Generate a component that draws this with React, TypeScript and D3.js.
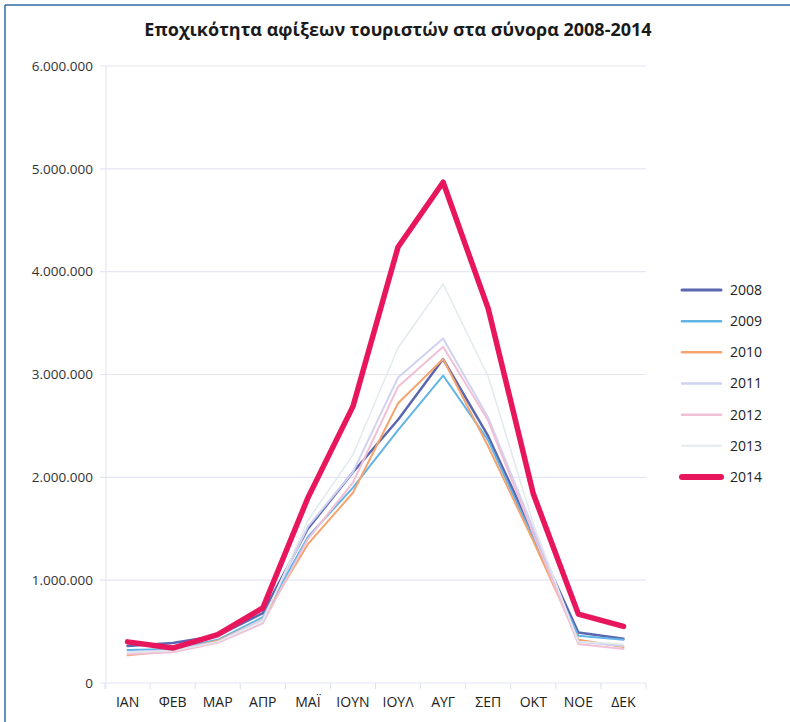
import React from "react";
import * as d3 from "d3";

const months = ["ΙΑΝ", "ΦΕΒ", "ΜΑΡ", "ΑΠΡ", "ΜΑΪ", "ΙΟΥΝ", "ΙΟΥΛ", "ΑΥΓ", "ΣΕΠ", "ΟΚΤ", "ΝΟΕ", "ΔΕΚ"];
const years = ["2008", "2009", "2010", "2011", "2012", "2013", "2014"];
const yTicks = [0, 1000000, 2000000, 3000000, 4000000, 5000000, 6000000];

const v2008 = [360000, 390000, 460000, 680000, 1500000, 2050000, 2560000, 3150000, 2400000, 1450000, 490000, 430000];
const v2009 = [320000, 330000, 420000, 640000, 1420000, 1900000, 2460000, 2990000, 2360000, 1400000, 460000, 420000];
const v2010 = [270000, 310000, 410000, 620000, 1350000, 1850000, 2720000, 3150000, 2300000, 1380000, 420000, 350000];
const v2011 = [300000, 320000, 400000, 620000, 1520000, 2050000, 2970000, 3350000, 2580000, 1500000, 400000, 360000];
const v2012 = [280000, 300000, 390000, 580000, 1400000, 1950000, 2880000, 3270000, 2550000, 1450000, 380000, 330000];
const v2013 = [300000, 310000, 400000, 600000, 1580000, 2220000, 3260000, 3880000, 2980000, 1550000, 400000, 380000];
const v2014 = [400000, 340000, 470000, 730000, 1800000, 2690000, 4240000, 4870000, 3640000, 1840000, 670000, 550000];

const seriesValues = [v2008, v2009, v2010, v2011, v2012, v2013, v2014];
const colors = ["#5a66b0", "#62b4e6", "#f5a46e", "#cfd3f0", "#f0c0d6", "#e2eaee", "#e8175d"];
const widths = [2.5, 2, 2, 2, 2, 1.5, 5.5];

const locale = d3.formatLocale({ decimal: ",", thousands: ".", grouping: [3], currency: ["", "€"] });
const fmt = locale.format(",d");

export default function App() {
  const W = 790;
  const H = 722;
  const x = d3.scaleBand<string>().domain(months).range([105, 646]).padding(0);
  const y = d3.scaleLinear().domain([0, 6000000]).range([683, 66]);
  const cx = (m: string) => (x(m) as number) + x.bandwidth() / 2;
  const line = d3
    .line<number>()
    .x((_, i) => cx(months[i]))
    .y((d) => y(d));

  const legendY = d3.scalePoint<string>().domain(years).range([290, 477]);
  const boundaries = months.map((m) => x(m) as number).concat([646]);

  return (
    <svg width={W} height={H} style={{ position: "absolute", left: 0, top: 0, background: "#fff" }}>
      <rect x={0} y={0} width={W} height={H} fill="#fff" />
      <line x1={5} y1={5} x2={W} y2={5} stroke="#2f6aa0" strokeWidth={1.5} />
      <line x1={5} y1={5} x2={5} y2={H} stroke="#2f6aa0" strokeWidth={1.5} />
      <text
        x={398}
        y={36}
        textAnchor="middle"
        fontFamily="'Open Sans', sans-serif"
        fontWeight={700}
        fontSize={18}
        fill="#1a1a1a"
      >
        Εποχικότητα αφίξεων τουριστών στα σύνορα 2008-2014
      </text>
      {yTicks.map((t) => (
        <g key={t}>
          <line x1={100} x2={646} y1={y(t)} y2={y(t)} stroke="#e4e6f4" strokeWidth={1.2} />
          <text
            x={93}
            y={y(t)}
            dy="0.35em"
            textAnchor="end"
            fontFamily="'Open Sans', sans-serif"
            fontSize={13.5}
            fill="#333"
          >
            {fmt(t)}
          </text>
        </g>
      ))}
      <line x1={106} x2={106} y1={66} y2={689} stroke="#e4e6f4" strokeWidth={1.2} />
      {boundaries.map((b, i) => (
        <line key={i} x1={b} x2={b} y1={683} y2={689} stroke="#dcdfee" strokeWidth={1} />
      ))}
      {months.map((m) => (
        <text
          key={m}
          x={cx(m)}
          y={707}
          textAnchor="middle"
          fontFamily="'Open Sans', sans-serif"
          fontSize={14}
          fill="#222"
        >
          {m}
        </text>
      ))}
      {seriesValues.map((vals, i) => (
        <path
          key={years[i]}
          d={line(vals) || ""}
          fill="none"
          stroke={colors[i]}
          strokeWidth={widths[i]}
          strokeLinejoin="round"
          strokeLinecap="round"
        />
      ))}
      {years.map((yr, i) => (
        <g key={yr}>
          <line
            x1={682}
            x2={721}
            y1={legendY(yr)}
            y2={legendY(yr)}
            stroke={colors[i]}
            strokeWidth={i === 6 ? 6 : widths[i] + 0.5}
            strokeLinecap="round"
          />
          <text
            x={730}
            y={legendY(yr)}
            dy="0.35em"
            fontFamily="'Open Sans', sans-serif"
            fontSize={14}
            fill="#222"
          >
            {yr}
          </text>
        </g>
      ))}
    </svg>
  );
}
